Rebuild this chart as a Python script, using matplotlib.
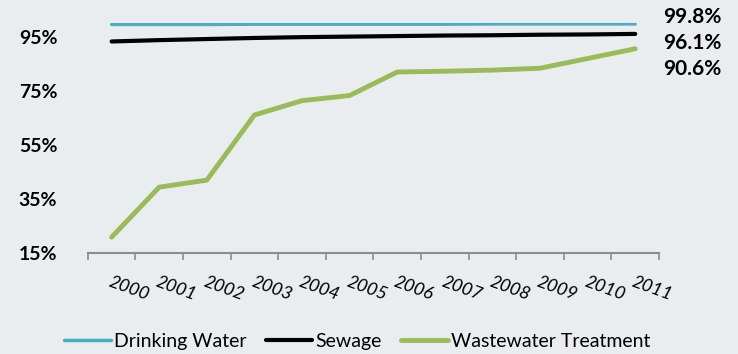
import matplotlib
matplotlib.use('Agg')
import matplotlib.pyplot as plt
import numpy as np

years = ['2000', '2001', '2002', '2003', '2004', '2005',
         '2006', '2007', '2008', '2009', '2010', '2011']
drinking = [99.6, 99.6, 99.6, 99.7, 99.7, 99.7, 99.7, 99.7, 99.8, 99.8, 99.8, 99.8]
sewage = [93.3, 93.8, 94.2, 94.6, 94.9, 95.1, 95.3, 95.5, 95.6, 95.8, 95.9, 96.1]
treatment = [20.9, 39.4, 42.0, 66.1, 71.4, 73.3, 82.0, 82.3, 82.7, 83.4, 87.0, 90.6]
end_labels = ['99.8%', '96.1%', '90.6%']
yticks = [15, 35, 55, 75, 95]

bg = '#E9EDEF'
plt.rcParams['font.family'] = ['Lato', 'DejaVu Sans']

fig = plt.figure(figsize=(7.38, 3.54), dpi=100, facecolor=bg)
ax = fig.add_axes([0.119, 0.285, 0.774, 0.649], facecolor=bg)

x = np.arange(len(years))
ax.plot(x, drinking, color='#4BACC6', lw=2.5, label='Drinking Water', solid_capstyle='round')
ax.plot(x, sewage, color='black', lw=3, label='Sewage', solid_capstyle='round')
ax.plot(x, treatment, color='#9BBB59', lw=3.5, label='Wastewater Treatment', solid_capstyle='round')

ax.set_xlim(-0.5, len(years) - 0.5)
ax.set_ylim(15, 100)

for s in ['top', 'right', 'left']:
    ax.spines[s].set_visible(False)
ax.spines['bottom'].set_color('#8C8C8C')
ax.spines['bottom'].set_linewidth(1.5)

# tick marks between categories, labels at the centres
ax.set_xticks(np.arange(len(years) + 1) - 0.5)
ax.set_xticklabels([])
ax.tick_params(axis='x', which='major', length=5, width=1.2, color='#8C8C8C', direction='out')
ax.set_xticks(x, minor=True)
ax.set_xticklabels(years, minor=True, rotation=-20, ha='left', rotation_mode='anchor',
                   fontsize=13, style='italic')
ax.tick_params(axis='x', which='minor', length=0, pad=15)

ax.set_yticks(yticks)
ax.set_yticklabels([f'{v}%' for v in yticks], fontsize=14, fontweight='bold')
ax.tick_params(axis='y', length=0, pad=22)

for lbl, yp in zip(end_labels, [0.953, 0.878, 0.805]):
    fig.text(0.898, yp, lbl, fontsize=15, fontweight='bold', va='center', ha='left')

ax.legend(loc='center', bbox_to_anchor=(0.484, 0.035), bbox_transform=fig.transFigure,
          ncol=3, frameon=False, fontsize=14, handlelength=2.4, handletextpad=0.15,
          columnspacing=1.0)

fig.savefig('out.png', dpi=100, facecolor=bg)
